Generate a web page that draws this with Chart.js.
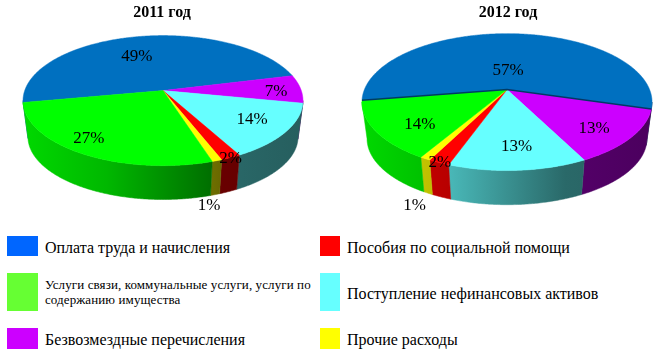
<!DOCTYPE html>
<html>
<head>
<meta charset="utf-8">
<script src="https://cdn.jsdelivr.net/npm/chart.js@4"></script>
<style>
html, body { margin: 0; padding: 0; background: #fff; overflow: hidden; }
body { width: 670px; height: 361px; position: relative; font-family: "Liberation Serif", serif; color: #000; }
canvas { position: absolute; top: 0; }
#chart2011 { left: 0; }
#chart2012 { left: 346px; }
.swatch { position: absolute; }
.legendText { position: absolute; white-space: nowrap; font-size: 16px; line-height: 15px; }
</style>
</head>
<body>
<canvas id="chart2011" width="324" height="225" style="width:324px;height:225px"></canvas>
<canvas id="chart2012" width="324" height="225" style="width:324px;height:225px"></canvas>
<div id="legend"></div>
<script>
// порядок секторов по часовой стрелке, как на картинке
const categories = [
    'Оплата труда и начисления',
    'Безвозмездные перечисления',
    'Поступление нефинансовых активов',
    'Пособия по социальной помощи',
    'Прочие расходы',
    'Услуги связи, коммунальные услуги, услуги по содержанию имущества'
];
const values2011 = [49, 7, 14, 2, 1, 27];
const values2012 = [57, 13, 13, 2, 1, 14];
const sliceColors = ['#0070c0', '#cc00ff', '#66ffff', '#ff0000', '#ffff00', '#00ff00'];
const legendColors = ['#0066ff', '#cc00ff', '#66ffff', '#ff0000', '#ffff00', '#66ff33'];

// подписи: сдвиг угла от середины сектора (градусы) и доля радиуса
const labelShift2011 = [-6.7, 1.5, -1.9, 0, 9, 5];
const labelRadius2011 = [0.636, 0.817, 0.731, 1.0, 1.43, 0.82];
const labelShift2012 = [-2.2, 3.6, -1, 0, -8.4, -5.8];
const labelRadius2012 = [0.32, 0.758, 0.735, 0.99, 1.41, 0.73];

// яркость боковой стенки слева направо
const wallShade = [[0, 0.85], [0.3, 0.72], [0.7, 0.41], [1, 0.37]];

function shaded(hex, k) {
    const n = parseInt(hex.slice(1), 16);
    const r = Math.round((n >> 16 & 255) * k);
    const g = Math.round((n >> 8 & 255) * k);
    const b = Math.round((n & 255) * k);
    return 'rgb(' + r + ',' + g + ',' + b + ')';
}

const pie3d = {
    id: 'pie3d',
    //рисуем сами, углы берем из элементов диаграммы
    beforeDatasetsDraw(chart, args, opts) {
        const { ctx } = chart;
        const arcs = chart.getDatasetMeta(0).data;
        const colors = chart.data.datasets[0].backgroundColor;
        const cx = arcs[0].x + opts.dx;
        const cy = arcs[0].y;
        const rx = arcs[0].outerRadius;
        const ry = rx * opts.squash;
        const p = opts.persp;

        // точка круга -> экран, с перспективой (центр круга не в центре эллипса)
        const top = (a, r = 1) => {
            const u = Math.cos(a) * r;
            const v = Math.sin(a) * r;
            const w = 1 - p * v;
            return { x: cx + rx * u / w, y: cy + ry * v / w };
        };
        const bottom = (a) => {
            const t = top(a);
            return { x: cx + (t.x - cx) * opts.shrink, y: cy + (t.y - cy) * opts.shrink + opts.depth };
        };

        ctx.save();
        // стенки
        const lo = Math.asin(p);
        const hi = Math.PI - lo;
        const left = cx - rx * 1.02;
        const right = cx + rx * 1.02;
        arcs.forEach((arc, i) => {
            for (let k = -1; k <= 1; k++) {
                const s = Math.max(arc.startAngle + k * 2 * Math.PI, lo);
                const e = Math.min(arc.endAngle + k * 2 * Math.PI, hi);
                if (e <= s) continue;
                const grad = ctx.createLinearGradient(left, 0, right, 0);
                wallShade.forEach(([stop, shade]) => grad.addColorStop(stop, shaded(colors[i], shade)));
                ctx.beginPath();
                const steps = Math.ceil((e - s) / 0.01);
                for (let j = 0; j <= steps; j++) {
                    const pt = top(s + (e - s) * j / steps);
                    ctx.lineTo(pt.x, pt.y);
                }
                for (let j = steps; j >= 0; j--) {
                    const pt = bottom(s + (e - s) * j / steps);
                    ctx.lineTo(pt.x, pt.y);
                }
                ctx.closePath();
                ctx.fillStyle = grad;
                ctx.strokeStyle = grad;
                ctx.lineWidth = 0.5;
                ctx.fill();
                ctx.stroke();
            }
        });
        // верхняя грань
        arcs.forEach((arc, i) => {
            ctx.beginPath();
            ctx.moveTo(cx, cy);
            const steps = Math.ceil((arc.endAngle - arc.startAngle) / 0.01);
            for (let j = 0; j <= steps; j++) {
                const pt = top(arc.startAngle + (arc.endAngle - arc.startAngle) * j / steps);
                ctx.lineTo(pt.x, pt.y);
            }
            ctx.closePath();
            ctx.fillStyle = colors[i];
            ctx.strokeStyle = colors[i];
            ctx.lineWidth = 0.5;
            ctx.fill();
            ctx.stroke();
        });
        // темная линия по краю синего сектора, только 2012
        if (opts.edgeColor) {
            const a = top(arcs[0].startAngle);
            const b = top(arcs[0].endAngle);
            ctx.beginPath();
            ctx.moveTo(a.x, a.y);
            ctx.lineTo(cx, cy);
            ctx.lineTo(b.x, b.y);
            ctx.strokeStyle = opts.edgeColor;
            ctx.lineWidth = 1.5;
            ctx.stroke();
        }
        // подписи
        ctx.font = '17px "Liberation Serif"';
        ctx.fillStyle = '#000';
        ctx.textAlign = 'center';
        ctx.textBaseline = 'middle';
        arcs.forEach((arc, i) => {
            const mid = (arc.startAngle + arc.endAngle) / 2 + opts.labelShift[i] * Math.PI / 180;
            const pt = top(mid, opts.labelRadius[i]);
            ctx.fillText(chart.data.datasets[0].data[i] + '%', pt.x, pt.y + 1);
        });
        ctx.restore();
        return false;
    }
};

function makePie(id, title, values, settings) {
    return new Chart(document.getElementById(id), {
        type: 'pie',
        data: {
            labels: categories,
            datasets: [{ data: values, backgroundColor: sliceColors }]
        },
        options: {
            responsive: false,
            animation: false,
            rotation: settings.rotation,
            radius: settings.radius,
            layout: { padding: settings.padding },
            plugins: {
                legend: { display: false },
                tooltip: { enabled: false },
                title: {
                    display: true,
                    text: title,
                    color: '#000',
                    font: { family: '"Liberation Serif"', size: 16, weight: 'bold' },
                    padding: { top: 3, bottom: 0 }
                },
                pie3d: settings
            }
        },
        plugins: [pie3d]
    });
}

makePie('chart2011', '2011 год', values2011, {
    rotation: 259.5, radius: 138.3, squash: 0.459, persp: 0.154, depth: 36.5, shrink: 0.965, dx: 1,
    padding: { top: 0, bottom: 66 },
    labelShift: labelShift2011, labelRadius: labelRadius2011
});
makePie('chart2012', '2012 год', values2012, {
    rotation: 261, radius: 142.6, squash: 0.464, persp: 0.1825, depth: 37, shrink: 0.965, dx: -1,
    padding: { top: 0, bottom: 68 },
    edgeColor: '#003a66',
    labelShift: labelShift2012, labelRadius: labelRadius2012
});

// легенда: индекс категории, колонка, строка
const legendOrder = [[0, 0, 0], [3, 1, 0], [5, 0, 1], [2, 1, 1], [1, 0, 2], [4, 1, 2]];
const colX = [7, 320];
const colSwatch = [31, 20];
const colText = [45, 347];
const rowY = [236, 273, 328];
const rowH = [20, 38, 21];
const legend = document.getElementById('legend');
legendOrder.forEach(([i, col, row]) => {
    const sw = document.createElement('div');
    sw.className = 'swatch';
    sw.style.cssText = 'left:' + colX[col] + 'px;top:' + rowY[row] + 'px;width:' + colSwatch[col] + 'px;height:' + rowH[row] + 'px;background:' + legendColors[i];
    legend.appendChild(sw);
    const txt = document.createElement('div');
    txt.className = 'legendText';
    const long = categories[i].length > 40;
    txt.style.left = colText[col] + 'px';
    if (long) {
        // две строки, шрифт меньше
        txt.style.whiteSpace = 'normal';
        txt.style.width = '275px';
        txt.style.fontSize = '13px';
        txt.style.letterSpacing = '0.1px';
        txt.style.top = (rowY[row] + 4) + 'px';
    } else {
        txt.style.top = (rowY[row] + rowH[row] / 2 - 6.5) + 'px';
    }
    txt.textContent = categories[i];
    legend.appendChild(txt);
});
</script>
</body>
</html>
